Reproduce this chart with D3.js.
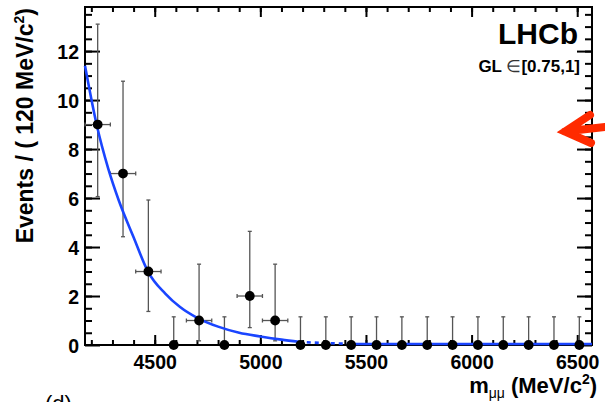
<!DOCTYPE html>
<html>
<head>
<meta charset="utf-8">
<script src="https://cdn.jsdelivr.net/npm/d3@7"></script>
<style>
  html, body { margin: 0; padding: 0; background: #fff; }
  svg { display: block; }
  text { font-family: "Liberation Sans", Arial, Helvetica, sans-serif; }
</style>
</head>
<body>
<script>
// ---- data ----
const binCenters = [4230, 4350, 4470, 4590, 4710, 4830, 4950, 5070, 5190, 5310,
                    5430, 5550, 5670, 5790, 5910, 6030, 6150, 6270, 6390, 6510];
const counts     = [9, 7, 3, 0, 1, 0, 2, 1, 0, 0, 0, 0, 0, 0, 0, 0, 0, 0, 0, 0];
const errLower   = [6.06, 4.42, 1.37, 0, 0.17, 0, 0.71, 0.17, 0, 0, 0, 0, 0, 0, 0, 0, 0, 0, 0, 0];
const errUpper   = [13.1, 10.77, 5.92, 1.15, 3.30, 1.15, 4.64, 3.30, 1.15, 1.15,
                    1.15, 1.15, 1.15, 1.15, 1.15, 1.15, 1.15, 1.15, 1.15, 1.15];
const binHalfWidth = 60;

// fit curve
const fitSolidX  = [4170, 4225, 4280, 4330, 4400, 4468, 4550, 4620, 4703, 4800, 4900, 5000, 5100, 5182];
const fitSolidY  = [11.4, 9.0, 7.2, 5.9, 4.4, 3.0, 2.1, 1.55, 1.1, 0.75, 0.5, 0.35, 0.22, 0.13];
const fitDashX   = [5182, 5300, 5420];
const fitDashY   = [0.13, 0.08, 0.05];
const fitTailX   = [5420, 6570];
const fitTailY   = [0.04, 0.04];

const xTicks = [4500, 5000, 5500, 6000, 6500];
const yTicks = [0, 2, 4, 6, 8, 10, 12];

// ---- layout ----
const W = 605, H = 402;
const L = 85, R = 592, T = 7, B = 345;

const svg = d3.select("body").append("svg").attr("width", W).attr("height", H);

const x = d3.scaleLinear().domain([4170, 6570]).range([L, R]);
const y = d3.scaleLinear().domain([0, 13.8]).range([B, T]);

const fontTick = "bold 19.5px 'Liberation Sans', Arial, sans-serif";

const xMinor = d3.range(4200, 6570, 100);
const yMinor = d3.range(0.5, 13.8, 0.5);

function styleAxis(g) {
  g.select(".domain").remove();
  g.selectAll("line").attr("stroke", "#000").attr("stroke-width", 2);
}

// bottom axis
svg.append("g").attr("transform", `translate(0,${B})`)
  .call(d3.axisBottom(x).tickValues(xMinor).tickSize(-5).tickFormat(""))
  .call(styleAxis);
svg.append("g").attr("transform", `translate(0,${B})`)
  .call(d3.axisBottom(x).tickValues(xTicks).tickSize(-10).tickFormat(d3.format("d")))
  .call(styleAxis)
  .call(g => g.selectAll("text").attr("fill", "#000").style("font", fontTick).attr("dy", null).attr("y", 24));
// top axis
svg.append("g").attr("transform", `translate(0,${T})`)
  .call(d3.axisTop(x).tickValues(xMinor).tickSize(-5).tickFormat(""))
  .call(styleAxis);
svg.append("g").attr("transform", `translate(0,${T})`)
  .call(d3.axisTop(x).tickValues(xTicks).tickSize(-10).tickFormat(""))
  .call(styleAxis);
// left axis
svg.append("g").attr("transform", `translate(${L},0)`)
  .call(d3.axisLeft(y).tickValues(yMinor).tickSize(-7).tickFormat(""))
  .call(styleAxis);
svg.append("g").attr("transform", `translate(${L},0)`)
  .call(d3.axisLeft(y).tickValues(yTicks).tickSize(-15).tickFormat(d3.format("d")))
  .call(styleAxis)
  .call(g => g.selectAll("text").attr("fill", "#000").style("font", fontTick)
    .attr("x", -6).attr("dy", "0.36em"));
// right axis
svg.append("g").attr("transform", `translate(${R},0)`)
  .call(d3.axisRight(y).tickValues(yMinor).tickSize(-7).tickFormat(""))
  .call(styleAxis);
svg.append("g").attr("transform", `translate(${R},0)`)
  .call(d3.axisRight(y).tickValues(yTicks).tickSize(-15).tickFormat(""))
  .call(styleAxis);

// frame
svg.append("rect").attr("x", L).attr("y", T).attr("width", R - L).attr("height", B - T)
  .attr("fill", "none").attr("stroke", "#000").attr("stroke-width", 2);

// error bars
const pts = binCenters.map((c, i) => ({c, n: counts[i], lo: errLower[i], hi: errUpper[i]}));
const eb = svg.append("g").attr("stroke", "#555").attr("stroke-width", 1.3);
pts.forEach(p => {
  const cx = x(p.c), cy = y(p.n);
  eb.append("line").attr("x1", cx).attr("x2", cx).attr("y1", y(p.hi)).attr("y2", y(p.lo));
  eb.append("line").attr("x1", cx - 2).attr("x2", cx + 2).attr("y1", y(p.hi)).attr("y2", y(p.hi));
  if (p.lo > 0) eb.append("line").attr("x1", cx - 2).attr("x2", cx + 2).attr("y1", y(p.lo)).attr("y2", y(p.lo));
  if (p.n > 0) {
    const xl = x(p.c - binHalfWidth), xr = x(p.c + binHalfWidth);
    eb.append("line").attr("x1", xl).attr("x2", xr).attr("y1", cy).attr("y2", cy);
    eb.append("line").attr("x1", xl).attr("x2", xl).attr("y1", cy - 2).attr("y2", cy + 2);
    eb.append("line").attr("x1", xr).attr("x2", xr).attr("y1", cy - 2).attr("y2", cy + 2);
  }
});

// fit curve
const line = d3.line().x(d => x(d[0])).y(d => y(d[1])).curve(d3.curveMonotoneX);
const blue = "#1a45ff";
svg.append("path").attr("d", line(d3.zip(fitSolidX, fitSolidY)))
  .attr("fill", "none").attr("stroke", blue).attr("stroke-width", 2.6);
svg.append("path").attr("d", line(d3.zip(fitDashX, fitDashY)))
  .attr("fill", "none").attr("stroke", blue).attr("stroke-width", 2.6).attr("stroke-dasharray", "4,4");
svg.append("path").attr("d", line(d3.zip(fitTailX, fitTailY)))
  .attr("fill", "none").attr("stroke", blue).attr("stroke-width", 2.4);

// markers
svg.append("g").selectAll("circle").data(pts).join("circle")
  .attr("cx", d => x(d.c)).attr("cy", d => y(d.n)).attr("r", 4.9).attr("fill", "#000");

// axis titles
const yt = svg.append("text")
  .attr("transform", "translate(33,8) rotate(-90)")
  .attr("text-anchor", "end")
  .attr("font-weight", "bold").attr("font-size", 23).attr("fill", "#000");
yt.append("tspan").text("Events / ( 120 MeV/c");
yt.append("tspan").attr("font-size", 14).attr("dy", -9).text("2");
yt.append("tspan").attr("dy", 9).text(")");

const xt = svg.append("text")
  .attr("x", 597).attr("y", 393).attr("text-anchor", "end")
  .attr("font-weight", "bold").attr("font-size", 22).attr("fill", "#000");
xt.append("tspan").text("m");
xt.append("tspan").attr("font-size", 14).attr("font-weight", "normal").attr("dy", 5).text("μμ");
xt.append("tspan").attr("dy", -5).text(" (MeV/c");
xt.append("tspan").attr("font-size", 14).attr("dy", -9).text("2");
xt.append("tspan").attr("dy", 9).text(")");

// labels
svg.append("text").attr("x", 578).attr("y", 43.5).attr("text-anchor", "end")
  .attr("font-weight", "bold").attr("font-size", 30).attr("fill", "#000").text("LHCb");
const gl = svg.append("text").attr("x", 580).attr("y", 72).attr("text-anchor", "end")
  .attr("font-weight", "bold").attr("font-size", 17).attr("fill", "#000");
gl.append("tspan").text("GL ");
gl.append("tspan").attr("font-weight", "normal").attr("fill", "#333").text("∈");
gl.append("tspan").text("[0.75,1]");

svg.append("text").attr("x", 45).attr("y", 411)
  .attr("font-family", "'Liberation Serif', serif").attr("font-size", 22).attr("fill", "#000").text("(d)");

// red annotation arrow
svg.append("path")
  .attr("d", "M590,115 L565,131.5 L591,143 M565,131.5 L605,127")
  .attr("fill", "none").attr("stroke", "#ff2a00").attr("stroke-width", 8)
  .attr("stroke-linecap", "round").attr("stroke-linejoin", "miter");
</script>
</body>
</html>
